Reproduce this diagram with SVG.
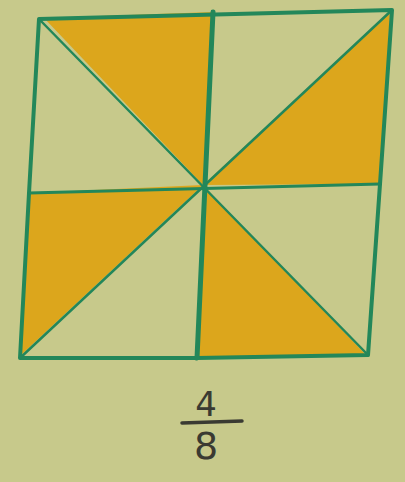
<svg xmlns="http://www.w3.org/2000/svg" width="405" height="482" viewBox="0 0 405 482">
<style>
.fill{fill:#dca61c;stroke:none}
.ln{stroke:#23875a;fill:none;stroke-linecap:round;stroke-linejoin:round}
.txt{font-family:"DejaVu Sans",sans-serif;fill:#3a3a32;text-anchor:middle}
</style>
<rect width="405" height="482" fill="#c7c98b"/>
<g id="shaded">
<polygon class="fill" points="44,18 213,12 203,185"/>
<polygon class="fill" points="390,12 380,184 203,185"/>
<polygon class="fill" points="29,193 20,356 203,185"/>
<polygon class="fill" points="203,185 197,357 366,355"/>
</g>
<g id="lines">
<polygon class="ln" stroke-width="4" points="39,19 392,10 380,184 368,355 197,358 20,358 29,193"/>
<line class="ln" stroke-width="5" x1="213" y1="12" x2="197" y2="358"/>
<line class="ln" stroke-width="3" x1="29" y1="193" x2="380" y2="184"/>
<line class="ln" stroke-width="2.5" x1="39" y1="19" x2="368" y2="355"/>
<line class="ln" stroke-width="2.5" x1="392" y1="10" x2="20" y2="358"/>
</g>
<g id="fraction">
<text class="txt" x="206" y="416" font-size="34">4</text>
<line x1="182" y1="423" x2="242" y2="421" stroke="#3a3a32" stroke-width="3.5" stroke-linecap="round"/>
<text class="txt" x="206" y="459" font-size="38">8</text>
</g>
</svg>
